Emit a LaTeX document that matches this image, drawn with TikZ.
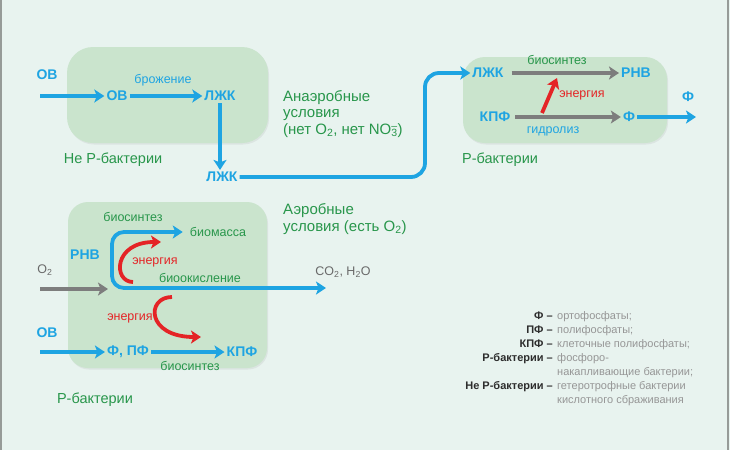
\documentclass[tikz,border=0pt]{standalone}
\usepackage{fontspec}
\setmainfont{Liberation Sans}
\usetikzlibrary{
  positioning,
  shadows,
  arrows.meta,
  calc
}
\definecolor{bgcolor}{RGB}{232,243,239}
\definecolor{framecolor}{RGB}{150,155,152}
\definecolor{boxcolor}{RGB}{202,228,205}
\definecolor{flowblue}{RGB}{30,164,226}
\definecolor{labelgreen}{RGB}{40,150,75}
\definecolor{energyred}{RGB}{228,36,38}
\definecolor{flowgray}{RGB}{125,125,125}
\definecolor{gastextcol}{RGB}{105,105,105}
\definecolor{legnamecol}{RGB}{45,45,45}
\definecolor{legtextcol}{RGB}{150,150,150}
\tikzset{
  cellbox/.style={
    rectangle,
    rounded corners=#1,
    fill=boxcolor,
    draw=none,
    drop shadow={opacity=0.12,shadow xshift=1pt,shadow yshift=-1.5pt}
  },
  substance/.style={
    font=\fontsize{14}{16}\selectfont\bfseries,
    text=flowblue,
    inner sep=2pt
  },
  smalltext/.style={
    font=\fontsize{12.5}{14}\selectfont,
    inner sep=1pt
  },
  grouplabel/.style={
    font=\fontsize{14.5}{16}\selectfont,
    text=labelgreen,
    inner sep=0pt
  },
  condtext/.style={
    font=\fontsize{15}{16.5}\selectfont,
    text=labelgreen,
    align=left,
    inner sep=0pt
  },
  gastext/.style={
    font=\fontsize{12.5}{14}\selectfont,
    text=gastextcol,
    inner sep=1pt
  },
  flowarrow/.style={
    -{Stealth[length=10pt,width=13pt,inset=2.5pt]},
    line width=3.8pt,
    color=flowblue
  },
  grayarrow/.style={
    -{Stealth[length=10pt,width=13pt,inset=2.5pt]},
    line width=4.5pt,
    color=flowgray
  },
  energyarrow/.style={
    -{Stealth[length=10pt,width=13pt,inset=2.5pt]},
    line width=3.8pt,
    color=energyred
  },
  legname/.style={
    font=\fontsize{11}{14}\selectfont\bfseries,
    text=legnamecol,
    align=right,
    inner sep=0pt
  },
  legtext/.style={
    font=\fontsize{11}{14}\selectfont,
    text=legtextcol,
    align=left,
    inner sep=0pt
  }
}

\begin{document}
\begin{tikzpicture}[x=1pt, y=-1pt]

  % Background and frame
  \fill[bgcolor] (0,0) rectangle (730,450);
  \useasboundingbox (0,0) rectangle (730,450);
  \draw[framecolor, line width=2pt] (1,0) -- (1,450);
  \draw[framecolor, line width=2pt] (728,0) -- (728,450);

  % Anaerobic stage: non-P bacteria
  \node[cellbox=26pt, minimum width=201pt, minimum height=96pt] (nonpbox) at (167.5,95) {};
  \node[substance] (ovin) at (47,75) {ОВ};
  \coordinate (ovstart) at (40,96);
  \node[substance] (ov) at (117,96) {ОВ};
  \node[substance] (lzk1) at (220,96) {ЛЖК};
  \node[smalltext, text=flowblue] (ferm) at (163,80) {брожение};
  \node[substance] (lzk2) at (222,177) {ЛЖК};
  \node[grouplabel] (nonp) at (113,160) {Не Р-бактерии};
  \node[condtext, anchor=west] (anaer) at (283,114)
    {Анаэробные\\условия\\(нет O\textsubscript{2}, нет NO\rlap{\textsubscript{3}}\textsuperscript{–})};

  \draw[flowarrow] (ovstart) -- (ov);
  \draw[flowarrow] (ov) -- (lzk1);
  \draw[flowarrow] (lzk1) -- (lzk1 |- lzk2.north);

  % Anaerobic stage: P bacteria
  \node[cellbox=22pt, minimum width=204pt, minimum height=86pt] (pbox1) at (565,100) {};
  \node[substance] (lzk3) at (488,73) {ЛЖК};
  \node[substance] (rnv1) at (636,73) {РНВ};
  \node[substance] (kpf1) at (495,117) {КПФ};
  \node[substance] (phi1) at (629,117) {Ф};
  \node[smalltext, text=labelgreen] (bsyn0) at (557,60) {биосинтез};
  \node[smalltext, text=flowblue] (hydro) at (553,131) {гидролиз};
  \node[smalltext, text=energyred] (en0) at (582,95) {энергия};
  \node[substance] (phiout) at (688,97) {Ф};
  \coordinate (phiend) at (696,117);
  \coordinate (en0s) at (542,113);
  \coordinate (en0e) at (557,78);
  \coordinate (riser) at (425,125);
  \node[grouplabel] (pbac1) at (500,160) {Р-бактерии};

  \draw[flowarrow, rounded corners=14pt] (lzk2) -| (riser) |- (lzk3);
  \draw[grayarrow, shorten <=6pt] (lzk3) -- (rnv1);
  \draw[grayarrow, shorten <=3pt] (kpf1) -- (phi1);
  \draw[flowarrow] (phi1) -- (phiend);
  \draw[energyarrow] (en0s) -- (en0e);

  % Aerobic stage: P bacteria
  \node[cellbox=20pt, minimum width=199pt, minimum height=166pt] (pbox2) at (167.5,285) {};
  \node[condtext, anchor=west] (aer) at (283,219) {Аэробные\\условия (есть O\textsubscript{2})};
  \node[substance] (rnv2) at (85,255) {РНВ};
  \node[smalltext, text=labelgreen] (bsyn1) at (133,217) {биосинтез};
  \node[smalltext, text=labelgreen] (biomass) at (218,232) {биомасса};
  \node[smalltext, text=labelgreen] (biox) at (200,278) {биоокисление};
  \node[gastext] (co2) at (343,272) {CO\textsubscript{2}, H\textsubscript{2}O};
  \node[gastext] (o2) at (45,270) {O\textsubscript{2}};
  \coordinate (o2start) at (40,289);
  \coordinate (split) at (112,262);
  \coordinate (co2end) at (326,288);

  \draw[grayarrow] (o2start) -- ([xshift=-4pt]split |- o2start);
  \draw[flowarrow, rounded corners=12pt, shorten >=6pt] (split) |- (biomass);
  \draw[flowarrow, rounded corners=12pt] (split) |- (co2end);

  % Energy loops
  \coordinate (en1s) at (133,282);
  \coordinate (en1e) at (161,242);
  \draw[energyarrow] (en1s) .. controls (113,282) and (113,242) .. (en1e);
  \node[smalltext, text=energyred] (en1) at (155,262) {энергия};
  \coordinate (en2s) at (172,297);
  \coordinate (en2e) at (201,337);
  \draw[energyarrow] (en2s) .. controls (146,297) and (146,337) .. (en2e);
  \node[smalltext, text=energyred] (en2) at (130,318) {энергия};

  % Phosphate uptake
  \node[substance] (ovin2) at (47,333) {ОВ};
  \coordinate (ov2start) at (40,352);
  \node[substance] (fpf) at (128,352) {Ф, ПФ};
  \node[substance] (kpf2) at (242,352) {КПФ};
  \node[smalltext, text=labelgreen] (bsyn2) at (190,366) {биосинтез};
  \node[grouplabel] (pbac2) at (95,400) {Р-бактерии};

  \draw[flowarrow] (ov2start) -- (fpf);
  \draw[flowarrow] (fpf) -- (kpf2);

  % Legend
  \node[legname, anchor=north east] (legnames) at (553,309)
    {\strut Ф –\\ПФ –\\КПФ –\\Р-бактерии –\\\mbox{}\\Не Р-бактерии –\\\mbox{}};
  \node[legtext, anchor=north west] (legtexts) at (557,309)
    {\strut ортофосфаты;\\полифосфаты;\\клеточные полифосфаты;\\фосфоро-\\накапливающие бактерии;\\гетеротрофные бактерии\\кислотного сбраживания};

\end{tikzpicture}
\end{document}
